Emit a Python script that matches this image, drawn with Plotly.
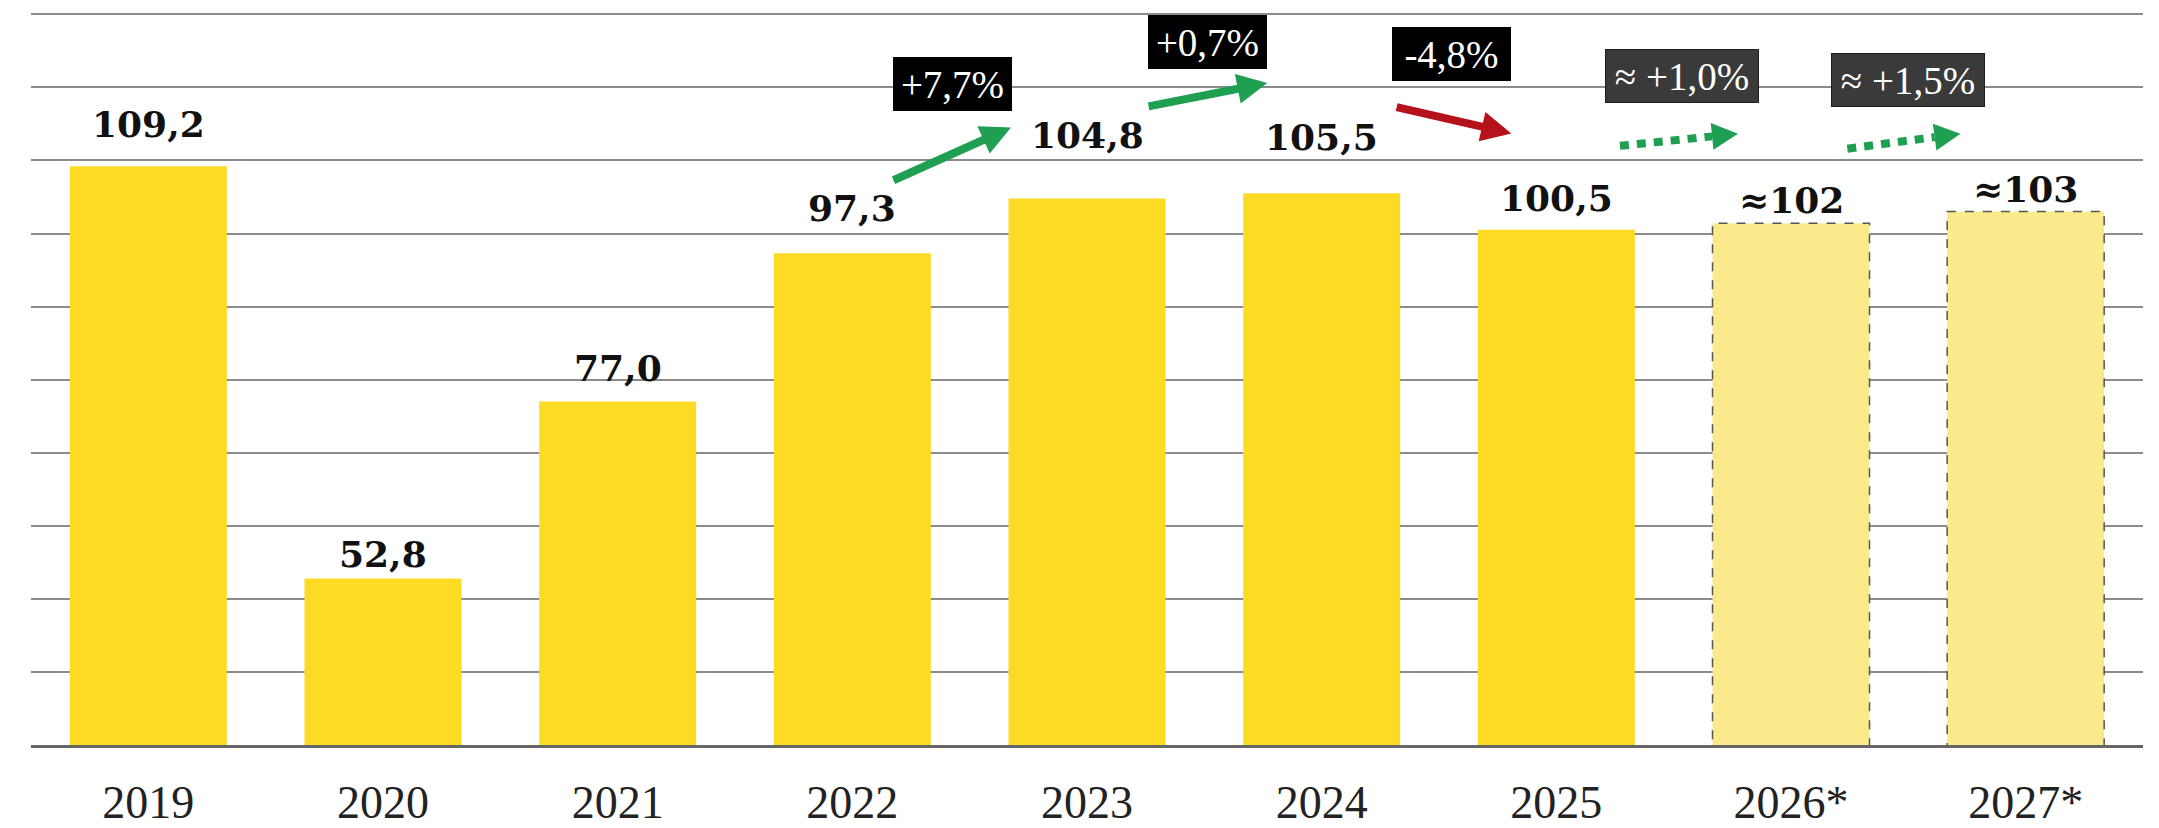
import math
import plotly.graph_objects as go

# ---------------- data ----------------
years = ["2019", "2020", "2021", "2022", "2023", "2024", "2025", "2026*", "2027*"]
values = [109.2, 52.8, 77.0, 97.3, 104.8, 105.5, 100.5, 101.4, 103.0]
value_labels = ["109,2", "52,8", "77,0", "97,3", "104,8", "105,5", "100,5", "≈102", "≈103"]
is_forecast = [False, False, False, False, False, False, False, True, True]
change_labels = ["+7,7%", "+0,7%", "-4,8%", "≈ +1,0%", "≈ +1,5%"]

# ---------------- styling / layout helpers ----------------
W, H = 2159, 828
MARGIN = dict(l=31, r=16, t=7, b=83, pad=0)
YMIN, YMAX = 30, 131
BAR_W = 0.669
ACTUAL_COLOR = "#FDDA24"
FORECAST_COLOR = "#FBEA8C"
GREEN = "#1E9F52"
RED = "#B5121B"

PX_X = (W - MARGIN["l"] - MARGIN["r"]) / len(years)      # px per category
PX_Y = (H - MARGIN["t"] - MARGIN["b"]) / (YMAX - YMIN)    # px per value unit

# extra lift (px) of each value label above its bar
label_lift = [19, 1, 11, 22, 40, 33, 9, 0, 0]

fig = go.Figure()
fig.add_trace(go.Bar(
    x=years, y=values,
    marker=dict(color=[FORECAST_COLOR if f else ACTUAL_COLOR for f in is_forecast], line=dict(width=0)),
    width=BAR_W, hoverinfo="skip",
))

shapes = []
annotations = []

# dashed outlines of the forecast bars
for i, (v, f) in enumerate(zip(values, is_forecast)):
    if f:
        shapes.append(dict(type="rect", xref="x", yref="y",
                           x0=i - BAR_W / 2, x1=i + BAR_W / 2, y0=YMIN - 1, y1=v,
                           line=dict(color="#555555", width=1.5, dash="dash"),
                           fillcolor="rgba(0,0,0,0)", layer="above"))

# value labels
for i, (v, t) in enumerate(zip(values, value_labels)):
    annotations.append(dict(x=i, y=v, xref="x", yref="y", text=t, showarrow=False,
                            xanchor="center", yanchor="bottom", yshift=label_lift[i],
                            font=dict(family="DejaVu Serif", size=36, color="#111111", weight="bold")))

# change boxes: (center x index, center y value, forecast?)
box_pos = [(3.427, 120.5, False), (4.514, 126.2, False), (5.554, 124.6, False),
           (6.537, 121.5, True), (7.500, 121.0, True)]
for (bx, by, fc), t in zip(box_pos, change_labels):
    annotations.append(dict(x=bx, y=by, xref="x", yref="y", text=t, showarrow=False,
                            xanchor="center", yanchor="middle",
                            width=152 if fc else 119, height=52 if fc else 54,
                            bgcolor="#3A3A3A" if fc else "#000000",
                            bordercolor="#1E1E1E" if fc else "#000000",
                            borderwidth=1 if fc else 0, borderpad=0,
                            font=dict(family="Liberation Serif", size=39, color="white")))

# solid arrows: (tail x, tail y, tip x, tip y, colour)
solid_arrows = [(3.169, 107.2, 3.676, 114.5, GREEN),
                (4.256, 117.35, 4.768, 120.6, GREEN),
                (5.313, 117.35, 5.808, 113.7, RED)]
for tx, ty, hx, hy, c in solid_arrows:
    annotations.append(dict(x=hx, y=hy, ax=tx, ay=ty, xref="x", yref="y", axref="x", ayref="y",
                            text="", showarrow=True, arrowhead=2, arrowsize=0.75,
                            arrowwidth=8, arrowcolor=c))

# dotted arrows with triangular heads
HEAD_L, HEAD_W = 26, 27
dotted_arrows = [(6.271, 112.0, 6.774, 113.66),
                 (7.240, 111.6, 7.722, 113.66)]
for tx, ty, hx, hy in dotted_arrows:
    dxp, dyp = (hx - tx) * PX_X, (hy - ty) * PX_Y
    n = math.hypot(dxp, dyp)
    ux, uy = dxp / n, dyp / n
    bx, by = hx - HEAD_L * ux / PX_X, hy - HEAD_L * uy / PX_Y
    shapes.append(dict(type="line", xref="x", yref="y", x0=tx, y0=ty, x1=bx, y1=by,
                       line=dict(color=GREEN, width=8, dash="9px,8px"), layer="above"))
    # triangle in pixels relative to tip (y positive = up)
    p1 = (-HEAD_L * ux - HEAD_W / 2 * uy, -HEAD_L * uy + HEAD_W / 2 * ux)
    p2 = (-HEAD_L * ux + HEAD_W / 2 * uy, -HEAD_L * uy - HEAD_W / 2 * ux)
    path = "M0,0 L{:.1f},{:.1f} L{:.1f},{:.1f} Z".format(p1[0], p1[1], p2[0], p2[1])
    shapes.append(dict(type="path", xref="x", yref="y", xsizemode="pixel", ysizemode="pixel",
                       xanchor=hx, yanchor=hy, path=path, fillcolor=GREEN,
                       line=dict(width=0), layer="above"))

fig.update_layout(
    width=W, height=H,
    margin=MARGIN,
    plot_bgcolor="white", paper_bgcolor="white",
    showlegend=False,
    shapes=shapes, annotations=annotations,
    xaxis=dict(type="category", range=[-0.5, 8.5], showgrid=False, ticks="",
               showline=True, linecolor="#666666", linewidth=3,
               tickfont=dict(family="Liberation Serif", size=46, color="#222222"),
               ticklabelstandoff=15, automargin=False, fixedrange=True),
    yaxis=dict(range=[YMIN, YMAX], dtick=10, tick0=0, showgrid=True, gridcolor="#8C8C8C",
               gridwidth=2, showticklabels=False, zeroline=False, showline=False,
               automargin=False, fixedrange=True),
)

fig.write_html("out.html")
